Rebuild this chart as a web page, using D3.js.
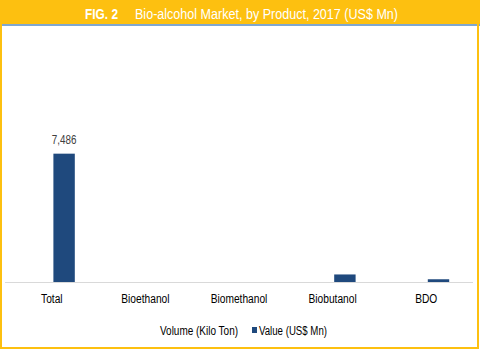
<!DOCTYPE html>
<html><head><meta charset="utf-8">
<script src="https://cdn.jsdelivr.net/npm/d3@7"></script>
<style>body{margin:0;background:#fff}svg{display:block}</style>
</head><body>
<svg id="c" width="480" height="350"></svg>
<script>
const categories = ["Total", "Bioethanol", "Biomethanol", "Biobutanol", "BDO"];
const series = ["Volume (Kilo Ton)", "Value (US$ Mn)"];
const volume = [null, null, null, null, null];
const value = [7486, 0, 0, 440, 160];
const labels = ["7,486", "", "", "", ""];
const yMax = 14000;

const svg = d3.select("#c");
const W = 480, H = 350;
const orange = "#FDC010", navy = "#1F497D";
const font = "'Liberation Sans', Arial, sans-serif";

function squeeze(sel, k) {
  sel.each(function(){
    const w = this.getComputedTextLength();
    d3.select(this).attr("textLength", w*k).attr("lengthAdjust","spacingAndGlyphs");
  });
}

svg.append("rect").attr("x",0).attr("y",0).attr("width",W).attr("height",H).attr("fill","#fff");
// header
svg.append("rect").attr("x",0).attr("y",0).attr("width",W).attr("height",24).attr("fill",orange);
svg.append("rect").attr("x",0).attr("y",24).attr("width",W).attr("height",2).attr("fill","#7FA7D0");
// border
svg.append("rect").attr("x",1).attr("y",1).attr("width",W-3).attr("height",H-3)
  .attr("fill","none").attr("stroke",orange).attr("stroke-width",2);

const tg = svg.append("g").attr("fill","#fff").attr("font-family",font).attr("font-size",15.5);
tg.append("text").attr("x",85).attr("y",18.5).attr("font-weight","bold").attr("textLength",33).attr("lengthAdjust","spacingAndGlyphs").text("FIG. 2");
tg.append("text").attr("x",135).attr("y",18.5).attr("textLength",263).attr("lengthAdjust","spacingAndGlyphs").text("Bio-alcohol Market, by Product, 2017 (US$ Mn)");

const x = d3.scaleBand().domain(categories).range([5, 473]);
const xs = d3.scaleBand().domain(series).range([x.bandwidth()/2 - 23, x.bandwidth()/2 + 23]).paddingInner(0.13);
const y = d3.scaleLinear().domain([0, yMax]).range([282, 42]);

// baseline
svg.append("line").attr("x1",5).attr("x2",473).attr("y1",282.5).attr("y2",282.5).attr("stroke","#D9D9D9").attr("stroke-width",1);

const g = svg.append("g");
categories.forEach((c,i)=>{
  const v = value[i];
  if (v > 0) {
    g.append("rect").attr("x", x(c)+xs(series[1])).attr("width", xs.bandwidth())
      .attr("y", y(v)).attr("height", y(0)-y(v)).attr("fill", navy);
  }
  if (labels[i]) {
    g.append("text").attr("x", x(c)+xs(series[1])+xs.bandwidth()/2).attr("y", y(v)-10)
      .attr("text-anchor","middle").attr("font-family",font).attr("font-size",12).attr("fill","#404040")
      .text(labels[i]).call(squeeze, 0.82);
  }
});

const ax = svg.append("g").attr("transform","translate(0,282)")
  .call(d3.axisBottom(x).tickSize(0).tickPadding(12));
ax.select(".domain").remove();
ax.selectAll("text").attr("font-family",font).attr("font-size",12).attr("fill","#000").call(squeeze, 0.85);

// legend
const lg = svg.append("g").attr("font-family",font).attr("font-size",12).attr("fill","#000");
lg.append("text").attr("x",160).attr("y",335).attr("textLength",78).attr("lengthAdjust","spacingAndGlyphs").text(series[0]);
lg.append("rect").attr("x",252).attr("y",327).attr("width",5).attr("height",6).attr("fill",navy);
lg.append("text").attr("x",259).attr("y",335).attr("textLength",68).attr("lengthAdjust","spacingAndGlyphs").text(series[1]);
</script>
</body></html>
